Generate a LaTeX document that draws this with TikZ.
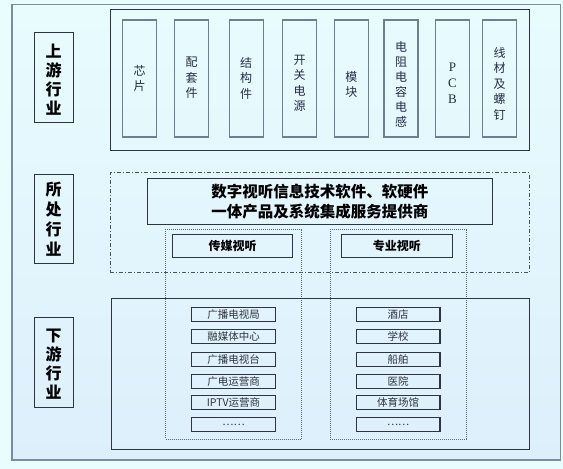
\documentclass[tikz,border=0pt]{standalone}
\usepackage{fontspec}
\setmainfont{Noto Sans CJK SC}
\newfontfamily\latinserif{Liberation Serif}
\definecolor{bgout}{HTML}{E9FDFE}
\definecolor{bgtop}{HTML}{E8FCFE}
\definecolor{bgbot}{HTML}{DDEFFB}
\definecolor{frameout}{HTML}{7D8AA0}
\definecolor{framedark}{HTML}{2E3440}
\definecolor{itemline}{HTML}{6F7E94}
\definecolor{itemtext}{HTML}{262C48}
\definecolor{bottext}{HTML}{30343C}
\definecolor{dashcol}{HTML}{4A5468}
\definecolor{dotcol}{HTML}{5A6880}
\begin{document}
\begin{tikzpicture}[x=1pt,y=-1pt,
  box/.style={draw, rectangle, inner sep=0pt},
  outerbox/.style={box, draw=frameout, line width=1.5pt},
  framebox/.style={box, draw=framedark, line width=0.9pt},
  labelbox/.style={box, draw=framedark, line width=1pt},
  labeltext/.style={align=center, font=\fontsize{16}{19}\selectfont\bfseries, text=black},
  upitem/.style={box, draw=itemline, line width=1.4pt, minimum width=34pt, minimum height=117pt},
  uptext/.style={align=center, font=\fontsize{12}{15.5}\selectfont, text=itemtext},
  dashdotbox/.style={box, draw=dashcol, line width=1pt, dash pattern=on 4pt off 2pt on 1pt off 2pt},
  dotbox/.style={box, draw=dotcol, line width=1pt, dash pattern=on 1pt off 1pt},
  midbox/.style={box, draw=framedark, line width=1pt, font=\fontsize{12}{14}\selectfont\bfseries},
  botitem/.style={box, draw=framedark, line width=1.2pt, minimum width=83.6pt, minimum height=14pt, font=\fontsize{10.5}{12}\selectfont, text=bottext}
]
\useasboundingbox (0,0) rectangle (563,469);
\fill[bgout] (0,0) rectangle (563,469);
\shade[top color=bgtop, bottom color=bgbot] (12,4.5) rectangle (560.5,460);
\node[outerbox, minimum width=548.5pt, minimum height=455.5pt] (outer) at (286.25,232.25) {};

% upstream
\node[framebox, minimum width=419.3pt, minimum height=141.7pt] (upframe) at (319.65,79.85) {};
\node[labelbox, minimum width=39pt, minimum height=90.3pt] (uplabel) at (53.5,77.2) {};
\node[labeltext] (uplabeltext) at (53.5,79.5) {上\\游\\行\\业};

\node[upitem] (u1) at (139.5,78.5) {};
\node[upitem] (u2) at (191.7,78.5) {};
\node[upitem] (u3) at (246.2,78.5) {};
\node[upitem] (u4) at (299.7,78.5) {};
\node[upitem] (u5) at (351.3,78.5) {};
\node[upitem] (u6) at (401,78.5) {};
\node[upitem] (u7) at (452.5,78.5) {};
\node[upitem] (u8) at (499.7,78.5) {};
\node[uptext] (t1) at (139.5,78.5) {芯\\片};
\node[uptext] (t2) at (191.7,78) {配\\套\\件};
\node[uptext] (t3) at (246.2,78) {结\\构\\件};
\node[uptext] (t4) at (299.7,83.5) {开\\关\\电\\源};
\node[uptext] (t5) at (351.3,84.5) {模\\块};
\node[uptext, font=\fontsize{12}{15}\selectfont] (t6) at (401,84) {电\\阻\\电\\容\\电\\感};
\node[uptext, font=\latinserif\fontsize{13}{16}\selectfont] (t7) at (452.5,83) {P\\C\\B};
\node[uptext] (t8) at (499.7,83.5) {线\\材\\及\\螺\\钉};

% middle
\node[labelbox, minimum width=39.3pt, minimum height=89.3pt] (midlabel) at (53.7,218.7) {};
\node[labeltext, font=\fontsize{16}{20}\selectfont\bfseries] (midlabeltext) at (53.7,219.5) {所\\处\\行\\业};
\node[dashdotbox, minimum width=419.3pt, minimum height=99.6pt] (midframe) at (319.65,222.5) {};
\node[box, draw=framedark, line width=1pt, minimum width=345pt, minimum height=45.9pt, align=center, font=\fontsize{15.5}{20}\selectfont\bfseries] (main) at (319.8,201.25) {数字视听信息技术软件、软硬件\\一体产品及系统集成服务提供商};
\node[midbox, minimum width=120.2pt, minimum height=23.2pt] (media) at (232.5,245.9) {传媒视听};
\node[midbox, minimum width=111.6pt, minimum height=23.2pt] (pro) at (396.8,245.9) {专业视听};
\node[dotbox, minimum width=136pt, minimum height=210pt] (colL) at (233.7,334) {};
\node[dotbox, minimum width=136.2pt, minimum height=210pt] (colR) at (398.4,334) {};

% downstream
\node[labelbox, minimum width=39.3pt, minimum height=90pt] (downlabel) at (53.7,362.7) {};
\node[labeltext] (downlabeltext) at (53.7,364) {下\\游\\行\\业};
\node[framebox, minimum width=418.3pt, minimum height=151.3pt] (downframe) at (320.15,373.65) {};

\node[botitem] (l1) at (233.5,314.3) {广播电视局};
\node[botitem] (l2) at (233.5,336.7) {融媒体中心};
\node[botitem] (l3) at (233.5,359.7) {广播电视台};
\node[botitem] (l4) at (233.5,381.3) {广电运营商};
\node[botitem] (l5) at (233.5,402.5) {IPTV运营商};
\node[botitem] (l6) at (233.5,424.7) {……};
\node[botitem] (r1) at (398.15,314.3) {酒店};
\node[botitem] (r2) at (398.15,336.7) {学校};
\node[botitem] (r3) at (398.15,359.7) {船舶};
\node[botitem] (r4) at (398.15,381.3) {医院};
\node[botitem] (r5) at (398.15,402.5) {体育场馆};
\node[botitem] (r6) at (398.15,424.7) {……};
\end{tikzpicture}
\end{document}
